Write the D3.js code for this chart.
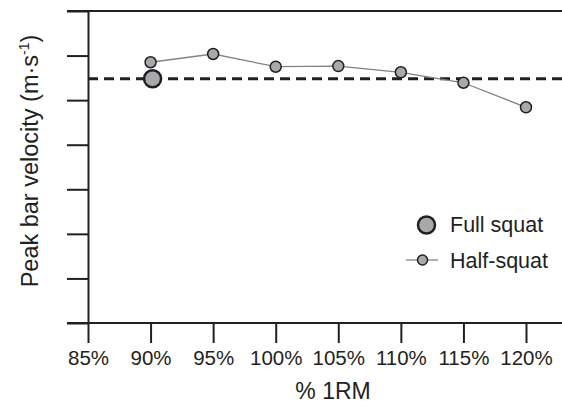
<!DOCTYPE html>
<html>
<head>
<meta charset="utf-8">
<script src="https://cdn.jsdelivr.net/npm/d3@7"></script>
<style>
  body { margin: 0; background: #fff; }
  svg text { font-family: "Liberation Sans", Arial, Helvetica, sans-serif; fill: #231f20; }
</style>
</head>
<body>
<div id="chart"></div>
<script>
// data
const loads = [90, 95, 100, 105, 110, 115, 120]
const halfSquat = [1.170, 1.207, 1.150, 1.153, 1.125, 1.078, 0.968]
const fullSquatLoad = 90
const fullSquat = 1.096
const xTicks = [85, 90, 95, 100, 105, 110, 115, 120]
const yTicks = [0, 0.2, 0.4, 0.6, 0.8, 1.0, 1.2, 1.4]

const width = 562
const height = 404
const margin = { top: 11, right: 36, bottom: 81, left: 88 }
const ink = '#231f20'
const dotFill = '#a7a9ac'

const svg = d3.select('#chart')
  .append('svg')
  .attr('width', width)
  .attr('height', height)

const x = d3.scaleLinear()
  .domain([85, 120])
  .range([margin.left, width - margin.right])

const y = d3.scaleLinear()
  .domain([0, 1.4])
  .range([height - margin.bottom, margin.top])

// y axis: ticks only, no labels
const yAxis = d3.axisLeft(y)
  .tickValues(yTicks)
  .tickSize(21)
  .tickSizeOuter(0)
  .tickFormat('')

const gy = svg.append('g')
  .attr('transform', `translate(${margin.left},0)`)
  .call(yAxis)
gy.selectAll('path, line').attr('stroke', ink).attr('stroke-width', 2)

// x axis
const xAxis = d3.axisBottom(x)
  .tickValues(xTicks)
  .tickSize(20)
  .tickSizeOuter(0)
  .tickPadding(7)
  .tickFormat(d => d + '%')

const gx = svg.append('g')
  .attr('transform', `translate(0,${y(0)})`)
  .call(xAxis)
gx.select('.domain').remove()
gx.selectAll('line').attr('stroke', ink).attr('stroke-width', 2)
gx.selectAll('text').style('font-size', '20.5px').attr('fill', ink)

// long lines at top and bottom of the frame
svg.append('g')
  .selectAll('line')
  .data([yTicks[0], yTicks[yTicks.length - 1]])
  .join('line')
  .attr('x1', margin.left - 21)
  .attr('x2', width)
  .attr('y1', d => y(d))
  .attr('y2', d => y(d))
  .attr('stroke', ink)
  .attr('stroke-width', 2)

// full squat reference (dashed)
svg.append('line')
  .attr('x1', margin.left)
  .attr('x2', width)
  .attr('y1', y(fullSquat))
  .attr('y2', y(fullSquat))
  .attr('stroke', ink)
  .attr('stroke-width', 3)
  .attr('stroke-dasharray', '10,6')

// half squat line + dots
const pts = loads.map((l, i) => ({ load: l, v: halfSquat[i] }))
svg.append('path')
  .datum(pts)
  .attr('d', d3.line().x(d => x(d.load)).y(d => y(d.v)))
  .attr('fill', 'none')
  .attr('stroke', '#808285')
  .attr('stroke-width', 1.3)

svg.append('g')
  .selectAll('circle')
  .data(pts)
  .join('circle')
  .attr('cx', d => x(d.load))
  .attr('cy', d => y(d.v))
  .attr('r', 5.5)
  .attr('fill', dotFill)
  .attr('stroke', ink)
  .attr('stroke-width', 1.5)

svg.append('circle')
  .attr('cx', x(fullSquatLoad) + 2)
  .attr('cy', y(fullSquat))
  .attr('r', 8.5)
  .attr('fill', dotFill)
  .attr('stroke', ink)
  .attr('stroke-width', 2.5)

// legend
const lg = svg.append('g')
lg.append('circle')
  .attr('cx', 426.5).attr('cy', 225).attr('r', 8.5)
  .attr('fill', dotFill).attr('stroke', ink).attr('stroke-width', 2.5)
lg.append('text')
  .attr('x', 450).attr('y', 232)
  .style('font-size', '21.5px')
  .text('Full squat')
lg.append('line')
  .attr('x1', 406).attr('x2', 438).attr('y1', 260).attr('y2', 260)
  .attr('stroke', '#808285').attr('stroke-width', 1.3)
lg.append('circle')
  .attr('cx', 422.5).attr('cy', 260).attr('r', 5)
  .attr('fill', dotFill).attr('stroke', ink).attr('stroke-width', 1.5)
lg.append('text')
  .attr('x', 450).attr('y', 268)
  .style('font-size', '21.5px')
  .text('Half-squat')

// axis titles
svg.append('text')
  .attr('x', 333).attr('y', 399)
  .attr('text-anchor', 'middle')
  .style('font-size', '23px')
  .text('% 1RM')

const yt = svg.append('text')
  .attr('transform', 'translate(38,161) rotate(-90)')
  .attr('text-anchor', 'middle')
  .style('font-size', '23.5px')
yt.append('tspan').text('Peak bar velocity (m·s')
yt.append('tspan').attr('dy', -9).style('font-size', '14px').text('-1')
yt.append('tspan').attr('dy', 9).text(')')
</script>
</body>
</html>
